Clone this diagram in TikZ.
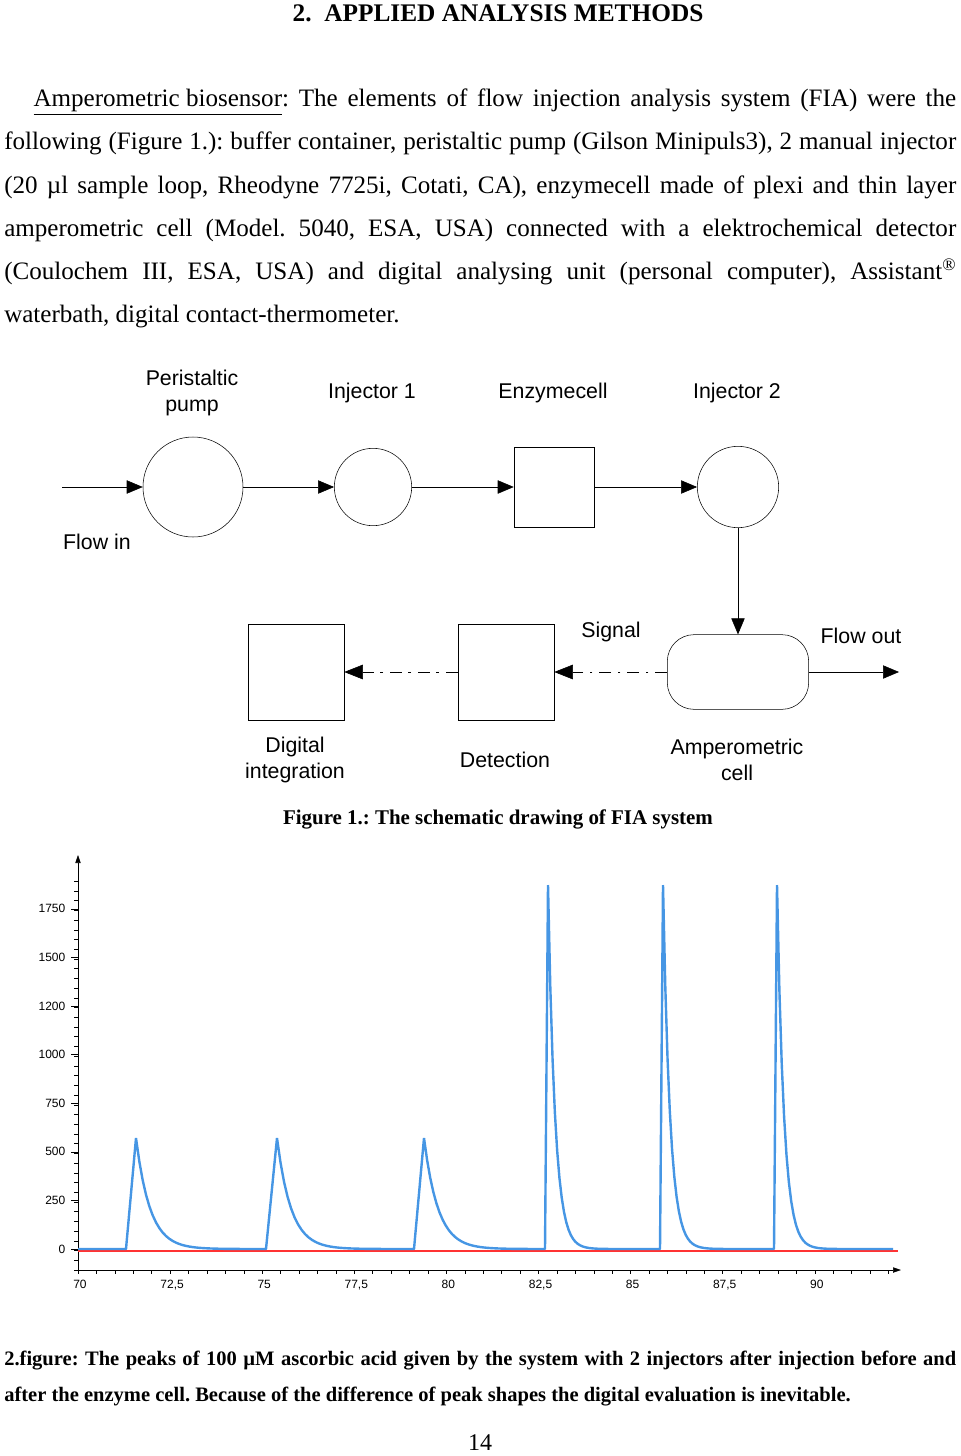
\documentclass[tikz,border=0pt]{standalone}
\usepackage{fontspec}
\setmainfont{Liberation Serif}
\newfontfamily\diafont{Liberation Sans}
\usetikzlibrary{positioning}
\usetikzlibrary{arrows.meta}
\usetikzlibrary{shapes}
\definecolor{peakblue}{RGB}{70,150,228}
\frenchspacing

\begin{document}
\begin{tikzpicture}[x=0.75pt, y=-0.75pt,
        lbl/.style={font=\diafont\fontsize{16}{19}\selectfont, align=center},
        unit/.style={draw, thin, minimum size=60pt, inner sep=0pt},
        pipe/.style={-{Triangle[length=12pt, width=10pt]}},
        sig/.style={dash pattern=on 9pt off 5pt on 2pt off 5pt, -{Triangle[length=14pt, width=11pt]}},
        ticklbl/.style={font=\diafont\fontsize{9}{10}\selectfont},
        captext/.style={font=\bfseries\fontsize{15.7}{20}\selectfont}]
    \useasboundingbox (0,0) rectangle (960,1456);

    % text of the page
    \node[font=\bfseries\fontsize{19}{22}\selectfont] (title) at (498,13) {2.\enspace APPLIED ANALYSIS METHODS};
    \node[anchor=north west, inner sep=0pt, text width=714pt, align=justify,
          font=\fontsize{18.8}{32.3}\selectfont] (body) at (4,89)
        {\sloppy\hspace*{22pt}\underline{Amperometric biosensor}: The elements of flow injection analysis system (FIA) were the\linebreak following (Figure 1.): buffer container, peristaltic pump (Gilson Minipuls3), 2 manual injector\linebreak (20 µl sample loop, Rheodyne 7725i, Cotati, CA), enzymecell made of plexi and thin layer\linebreak amperometric cell (Model. 5040, ESA, USA) connected with a elektrochemical detector\linebreak (Coulochem III, ESA, USA) and digital analysing unit (personal computer), Assistant\textsuperscript{®}\linebreak waterbath, digital contact-thermometer.};

    % flow scheme
    \coordinate (in) at (62,487);
    \node[draw, circle, minimum size=75pt] (pump) at (193,487) {};
    \node[draw, circle, minimum size=58pt] (inj1) at (373,487) {};
    \node[unit] (enz) at (554,487) {};
    \node[draw, circle, minimum size=61pt] (inj2) at (738,487) {};
    \node[draw, rounded corners=20pt, minimum width=106pt, minimum height=56pt] (amp) at (738,672) {};
    \node[unit, minimum size=72pt] (det) at (506,672) {};
    \node[unit, minimum size=72pt] (dig) at (296,672) {};
    \coordinate (out) at (899,672);

    \node[lbl] at (192,393) {Peristaltic\\pump};
    \node[lbl] at (372,393) {Injector 1};
    \node[lbl] at (553,393) {Enzymecell};
    \node[lbl] at (737,393) {Injector 2};
    \node[lbl] at (97,542) {Flow in};
    \node[lbl] at (611,632) {Signal};
    \node[lbl] at (861,636) {Flow out};
    \node[lbl] at (295,760) {Digital\\integration};
    \node[lbl] at (505,760) {Detection};
    \node[lbl] at (737,760) {Amperometric\\cell};

    \draw[pipe] (in) -- (pump);
    \draw[pipe] (pump) -- (inj1);
    \draw[pipe] (inj1) -- (enz);
    \draw[pipe] (enz) -- (inj2);
    \draw[pipe] (inj2) -- (amp);
    \draw[pipe] (amp) -- (out);
    \draw[sig] (amp) -- (det);
    \draw[sig] (det) -- (dig);

    \node[captext] (cap1) at (498,819) {Figure 1.: The schematic drawing of FIA system};

    % chart
    \coordinate (o) at (78,1270);
    \coordinate (ytop) at (78,855);
    \coordinate (xend) at (901,1270);
    \draw[-{Triangle[length=6pt, width=4pt]}] (o) -- (ytop);
    \draw[-{Triangle[length=6pt, width=4pt]}] (o) -- (xend);
    \foreach \y in {0,...,40} \draw (74,{1270-\y*9.72}) -- (78,{1270-\y*9.72});
    \foreach \v [count=\i from 0] in {0,250,500,750,1000,1200,1500,1750} {
        \draw (71,{1249-\i*48.6}) -- (78,{1249-\i*48.6});
        \node[ticklbl, anchor=east] at (70,{1249-\i*48.6}) {\v};
    }
    \foreach \t in {0,...,44} \draw ({78+\t*18.42},1270) -- ({78+\t*18.42},1274);
    \foreach \v [count=\i from 0] in {70,{72,5},75,{77,5},80,{82,5},85,{87,5},90}
        \node[ticklbl, anchor=base] at ({80+\i*92.1},1288) {\v};

    \draw[red!80, thick] (78,1251) -- (898,1251);
    \draw[peakblue, line width=1.8pt, line join=round]
        (78,1249) -- (126,1249) -- (136,1138)
        plot[domain=0:130, samples=40] ({136+\x},{1249-111*exp(-\x/14)})
        -- (266,1249) -- (277,1138)
        plot[domain=0:137, samples=40] ({277+\x},{1249-111*exp(-\x/14)})
        -- (414,1249) -- (424,1138)
        plot[domain=0:121, samples=40] ({424+\x},{1249-111*exp(-\x/14)})
        -- (545,1249) -- (548,885)
        plot[domain=0:112, samples=50] ({548+\x},{1249-364*exp(-\x/7)})
        -- (660,1249) -- (663,885)
        plot[domain=0:111, samples=50] ({663+\x},{1249-364*exp(-\x/7)})
        -- (774,1249) -- (777,885)
        plot[domain=0:116, samples=50] ({777+\x},{1249-364*exp(-\x/7)});

    \node[anchor=north west, inner sep=0pt, text width=714pt, align=justify,
          font=\bfseries\fontsize{15.4}{27}\selectfont] (cap2) at (4,1351)
        {2.figure: The peaks of 100 µM ascorbic acid given by the system with 2 injectors after injection before and after the enzyme cell. Because of the difference of peak shapes the digital evaluation is inevitable.};
    \node[font=\fontsize{18}{20}\selectfont] (page) at (480,1443) {14};
\end{tikzpicture}
\end{document}
